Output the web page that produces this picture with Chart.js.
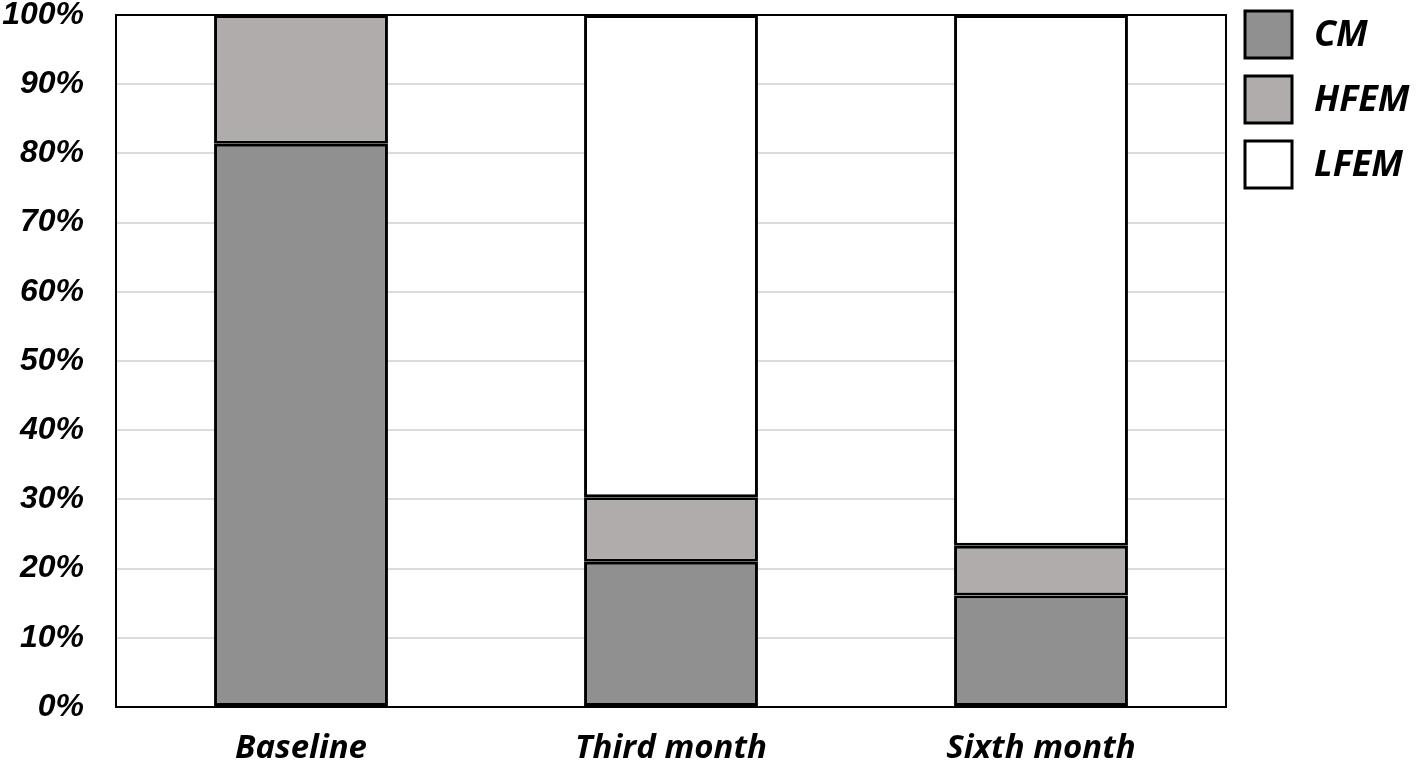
<!DOCTYPE html>
<html>
<head>
<meta charset="utf-8">
<script src="https://cdn.jsdelivr.net/npm/chart.js@4/dist/chart.umd.min.js"></script>
<style>
html,body{margin:0;padding:0;background:#fff;}
#wrap{width:1416px;height:763px;position:relative;}
</style>
</head>
<body>
<div id="wrap"><canvas id="c" width="1416" height="763"></canvas></div>
<script>
const categories = ["Baseline", "Third month", "Sixth month"];
const seriesNames = ["CM", "HFEM", "LFEM"];
const cmValues = [81.4, 21.0, 16.1];
const hfemValues = [18.6, 9.3, 7.2];
const lfemValues = [0, 69.7, 76.7];
const yTicks = [0, 10, 20, 30, 40, 50, 60, 70, 80, 90, 100];

const colors = ["#909090", "#b0acab", "#ffffff"];

const frame = {
  id: 'frame',
  afterDraw(chart) {
    const {ctx, chartArea: a} = chart;
    ctx.save();
    ctx.strokeStyle = '#000';
    ctx.lineWidth = 2;
    ctx.strokeRect(a.left, a.top, a.right - a.left, a.bottom - a.top);
    // legend
    const items = chart.data.datasets;
    items.forEach((ds, i) => {
      const x = 1245, y = 11 + i * 65, s = 47;
      ctx.fillStyle = ds.backgroundColor;
      ctx.fillRect(x, y, s, s);
      ctx.lineWidth = 3;
      ctx.strokeStyle = '#000';
      ctx.strokeRect(x, y, s, s);
      ctx.fillStyle = '#000';
      ctx.font = 'italic bold 36px "Open Sans"';
      ctx.textBaseline = 'middle';
      ctx.textAlign = 'left';
      ctx.fillText(ds.label, 1314, y + s / 2 + 1);
    });
    ctx.restore();
  }
};

new Chart(document.getElementById('c'), {
  type: 'bar',
  data: {
    labels: categories,
    datasets: [cmValues, hfemValues, lfemValues].map((vals, i) => ({
      label: seriesNames[i],
      data: vals,
      backgroundColor: colors[i],
      borderColor: '#000',
      borderWidth: 3,
      borderSkipped: false,
      barPercentage: 0.94,
      categoryPercentage: 0.5
    }))
  },
  options: {
    responsive: false,
    animation: false,
    layout: { padding: { top: 15, right: 190, left: 0, bottom: 0 } },
    plugins: { legend: { display: false }, tooltip: { enabled: false } },
    scales: {
      x: {
        stacked: true,
        grid: { display: false },
        border: { display: true, color: '#000', width: 2 },
        ticks: {
          color: '#000',
          padding: 14,
          font: { family: '"Open Sans"', size: 33, style: 'italic', weight: 'bold' }
        },
        afterFit(s) { s.height = 56; s.paddingLeft = 0; s.paddingRight = 0; }
      },
      y: {
        stacked: true,
        min: 0,
        max: 100,
        afterBuildTicks(s) { s.ticks = yTicks.map(v => ({ value: v })); },
        grid: { color: '#dcdcdc', lineWidth: 2, drawTicks: false },
        border: { display: true, color: '#000', width: 2 },
        ticks: {
          color: '#000',
          padding: 32,
          callback: v => v + '%',
          font: { family: '"Liberation Sans"', size: 32, style: 'italic', weight: 'bold' }
        },
        afterFit(s) { s.width = 116; s.paddingTop = 0; s.paddingBottom = 0; }
      }
    }
  },
  plugins: [frame]
});
</script>
</body>
</html>
